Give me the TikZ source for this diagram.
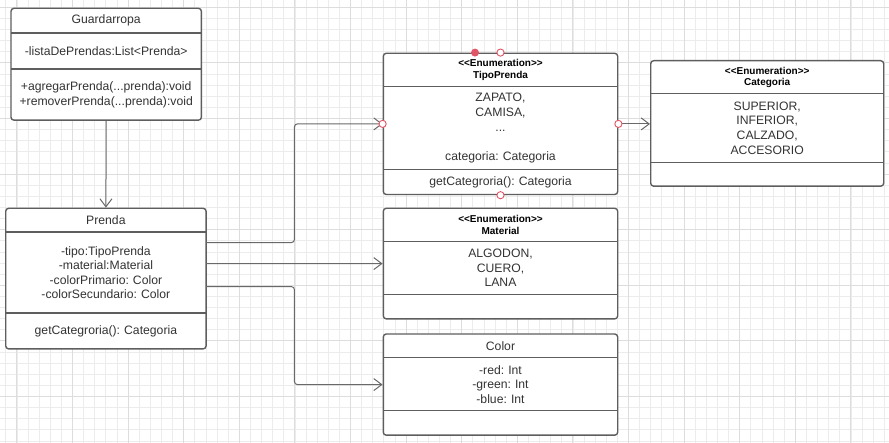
\documentclass[tikz,border=0pt]{standalone}
\usepackage{fontspec}
\setmainfont{Liberation Sans}
\usetikzlibrary{arrows.meta,positioning,fit}
\definecolor{linegray}{RGB}{94,94,94}
\definecolor{conngray}{RGB}{105,105,105}
\definecolor{textgray}{RGB}{51,51,51}
\definecolor{gridminor}{RGB}{236,236,236}
\definecolor{gridmajor}{RGB}{221,221,221}
\definecolor{markred}{RGB}{226,85,102}
\newcommand{\stereo}{<\kern0pt<Enumeration>\kern0pt>}
\frenchspacing

\begin{document}
\begin{tikzpicture}[x=1pt, y=-1pt,
           > = {Straight Barb[length=8pt,width=12pt]},
 part/.style = {draw=none, fill=white, inner sep=0pt, align=center,
                text=textgray, font=\fontsize{12.2}{14.6}\selectfont},% compartments
 enum/.style = {part, text=black, font=\fontsize{10}{11.4}\selectfont\bfseries},% enum headers
frame/.style = {draw=linegray, line width=1.4pt, rounded corners=3pt, inner sep=0pt},% class outline
  sep/.style = {draw=linegray, line width=1.4pt},% lines between compartments
 conn/.style = {draw=conngray, line width=1pt, ->, rounded corners=3pt},% associations
 dotc/.style = {draw=markred, fill=white, line width=0.9pt},% connection points
]
\useasboundingbox[fill=white] (0,0) rectangle (889,443);
% grid
\foreach \i in {0,...,79} \draw[gridminor, line width=0.8pt] ({5.8+11.12*\i},0) -- ({5.8+11.12*\i},443);
\foreach \i in {0,...,39} \draw[gridminor, line width=0.8pt] (0,{7.3+11.12*\i}) -- (889,{7.3+11.12*\i});
\foreach \i in {0,...,15} \draw[gridmajor, line width=0.9pt] ({16.9+55.6*\i},0) -- ({16.9+55.6*\i},443);
\foreach \i in {0,...,7}  \draw[gridmajor, line width=0.9pt] (0,{7.3+55.6*\i}) -- (889,{7.3+55.6*\i});

% Guardarropa
\begin{scope}[nodes={text width=190pt}]
\node[part, anchor=north west, minimum height=24.4pt] (g1) at (11,8.3) {Guardarropa};
\node[part, below=0pt of g1, minimum height=35.6pt] (g2) {-listaDePrendas:List<Prenda>};
\node[part, below=0pt of g2, minimum height=50.7pt] (g3)
     {+agregarPrenda(...prenda):void\\+removerPrenda(...prenda):void};
\node[frame, fit=(g1)(g3)] (g) {};
\end{scope}
% Prenda
\begin{scope}[nodes={text width=200pt}]
\node[part, anchor=north west, minimum height=23.4pt] (p1) at (5.7,208.3) {Prenda};
\node[part, below=0pt of p1, minimum height=80.6pt] (p2)
     {-tipo:TipoPrenda\\-material:Material\\-colorPrimario: Color\\-colorSecundario: Color};
\node[part, below=0pt of p2, minimum height=35.4pt] (p3) {getCategroria(): Categoria};
\node[frame, fit=(p1)(p3)] (p) {};
\end{scope}
% TipoPrenda
\begin{scope}[nodes={text width=234pt}]
\node[enum, anchor=north west, minimum height=32.7pt] (t1) at (383.3,53.3) {\stereo\\TipoPrenda};
\node[part, below=0pt of t1, minimum height=83pt] (t2)
     {ZAPATO,\\CAMISA,\\...\\\mbox{}\\categoria: Categoria};
\node[part, below=0pt of t2, minimum height=24.3pt] (t3) {getCategroria(): Categoria};
\node[frame, fit=(t1)(t3)] (t) {};
\end{scope}
% Categoria
\begin{scope}[nodes={text width=232.6pt}]
\node[enum, anchor=north west, minimum height=32.6pt] (c1) at (650.7,60.7) {\stereo\\Categoria};
\node[part, below=0pt of c1, minimum height=68.4pt] (c2)
     {SUPERIOR,\\INFERIOR,\\CALZADO,\\ACCESORIO};
\node[part, below=0pt of c2, minimum height=23.3pt] (c3) {};
\node[frame, fit=(c1)(c3)] (c) {};
\end{scope}
% Material
\begin{scope}[nodes={text width=234pt}]
\node[enum, anchor=north west, minimum height=32.7pt] (m1) at (383.3,208.3) {\stereo\\Material};
\node[part, below=0pt of m1, minimum height=53pt] (m2) {ALGODON,\\CUERO,\\LANA};
\node[part, below=0pt of m2, minimum height=23.7pt] (m3) {};
\node[frame, fit=(m1)(m3)] (m) {};
\end{scope}
% Color
\begin{scope}[nodes={text width=234pt}]
\node[part, anchor=north west, minimum height=23.3pt] (k1) at (383.3,334) {Color};
\node[part, below=0pt of k1, minimum height=52.7pt] (k2) {-red: Int\\-green: Int\\-blue: Int};
\node[part, below=0pt of k2, minimum height=24pt] (k3) {};
\node[frame, fit=(k1)(k3)] (k) {};
\end{scope}
% compartment lines
\foreach \n in {g1,g2,p1,p2,t1,t2,c1,c2,m1,m2,k1,k2}
\draw[sep] (\n.south west) -- (\n.south east);

% associations
\draw[conn] (g.south) -- (p.north);
\draw[conn] ([yshift=30pt]p2.east) -- ++(88.3,0) |- (t.west);
\draw[conn] ([yshift=9pt]p2.east) -- (m.west);
\draw[conn] ([yshift=-14pt]p2.east) -- ++(88.3,0) |- (k.west);
\draw[conn] (t.east) -- (t.east -| c.west);

% connection points on TipoPrenda
\foreach \a in {west,east,north,south}
\draw[dotc] (t.\a) circle (3.6pt);
\fill[markred] ([xshift=-25.5pt]t.north) circle (4pt);
\end{tikzpicture}
\end{document}
